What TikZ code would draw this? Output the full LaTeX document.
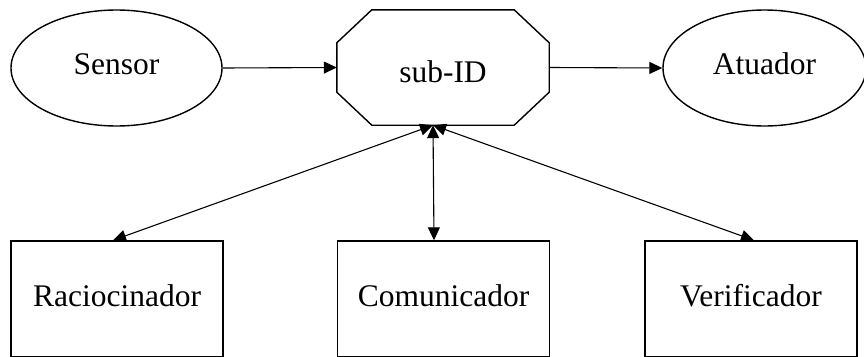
\documentclass[tikz,border=0pt]{standalone}
\usepackage{fontspec}
\setmainfont{Liberation Serif}
\usetikzlibrary{shapes.geometric,arrows.meta}
\begin{document}
\begin{tikzpicture}[x=1pt,y=-1pt,
  every node/.style={font=\fontsize{31.5}{36}\selectfont, inner sep=0pt, text height=21pt, text depth=8pt},
  shp/.style={draw, line width=1.4pt},
  ell/.style={shp, ellipse, minimum height=116pt},
  boxnode/.style={shp, rectangle, minimum width=212pt, minimum height=116pt},
  arr/.style={line width=1.1pt, -{Triangle[length=13pt,width=12pt]}},
  biarr/.style={line width=1.1pt, {Triangle[length=13pt,width=12pt]}-{Triangle[length=13pt,width=12pt]}}]
\useasboundingbox (0,0) rectangle (864,356);
\clip (0,0) rectangle (864,356);
\fill[white] (0,0) rectangle (864,356);
\node[ell, minimum width=211pt] (sensor) at (116.5,68) {Sensor};
\node[ell, minimum width=203pt] (atuador) at (764.5,68) {Atuador};
\node[rectangle, minimum width=212pt, minimum height=115pt, text height=30pt, text depth=0pt] (subid) at (443,67.5) {sub-ID};
\draw[shp] ([xshift=35pt]subid.north west) -- ([xshift=-35pt]subid.north east)
  -- ([yshift=-33pt]subid.north east) -- ([yshift=33pt]subid.south east)
  -- ([xshift=-35pt]subid.south east) -- ([xshift=35pt]subid.south west)
  -- ([yshift=33pt]subid.south west) -- ([yshift=-33pt]subid.north west) -- cycle;
\node[boxnode, text height=22pt, text depth=8pt] (rac) at (117,299) {Raciocinador};
\node[boxnode, text height=22pt, text depth=8pt] (com) at (443.5,299) {Comunicador};
\node[boxnode, text height=22pt, text depth=8pt] (ver) at (751,299) {Verificador};
\coordinate (hub) at ([xshift=-10pt]subid.south);
\draw[arr] (sensor.east) -- (subid.west);
\draw[arr] (subid.east) -- (atuador.west);
\draw[biarr] (hub) -- ([xshift=-4pt]rac.north);
\draw[biarr] (hub) -- ([xshift=-9.5pt]com.north);
\draw[biarr] (hub) -- ([xshift=3pt]ver.north);
\end{tikzpicture}
\end{document}
